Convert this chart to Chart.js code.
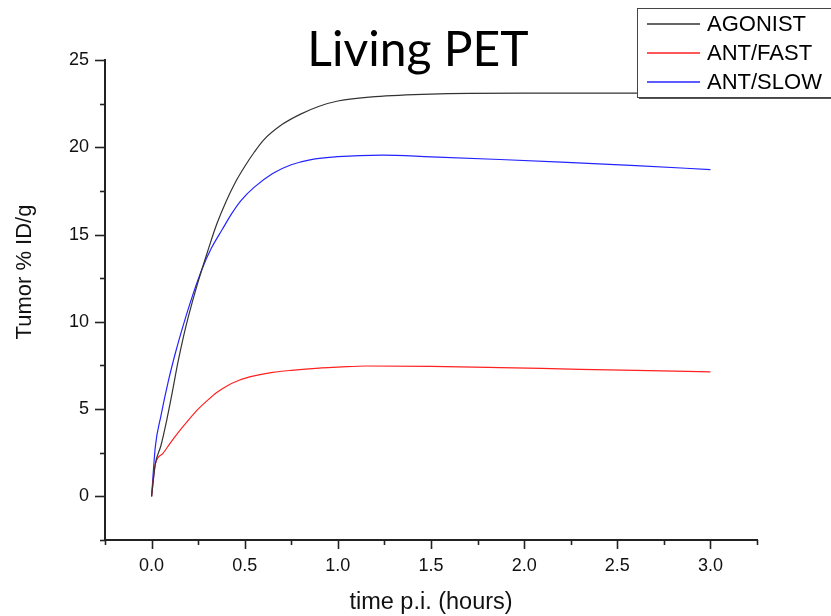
<!DOCTYPE html>
<html>
<head>
<meta charset="utf-8">
<script src="https://cdn.jsdelivr.net/npm/chart.js@4.4.1/dist/chart.umd.min.js"></script>
<style>
  html, body { margin: 0; padding: 0; background: #fff; }
  canvas { display: block; }
</style>
</head>
<body>
<canvas id="pet" width="831" height="616"></canvas>
<script>
// time after injection (hours) and tumor uptake (% ID/g)
const agonistTime = [0, 0.02, 0.05, 0.08, 0.11, 0.14, 0.17, 0.2, 0.25, 0.3, 0.35, 0.4, 0.45, 0.5, 0.55, 0.6, 0.7, 0.8, 0.9, 1.0, 1.2, 1.5, 2.0, 2.5, 3.0]
const agonistValues = [0, 1.85, 2.9, 4.3, 5.9, 7.6, 9.1, 10.4, 12.3, 14.0, 15.6, 16.9, 18.0, 18.9, 19.7, 20.4, 21.3, 21.9, 22.35, 22.65, 22.9, 23.05, 23.1, 23.1, 23.1]

const fastTime = [0, 0.02, 0.06, 0.1, 0.15, 0.2, 0.25, 0.3, 0.35, 0.4, 0.47, 0.55, 0.65, 0.75, 0.9, 1.0, 1.15, 1.5, 1.87, 2.3, 2.6, 3.0]
const fastValues = [0, 1.85, 2.45, 3.05, 3.75, 4.4, 5.0, 5.5, 5.95, 6.3, 6.65, 6.9, 7.1, 7.22, 7.35, 7.4, 7.47, 7.45, 7.38, 7.28, 7.22, 7.13]

const slowTime = [0, 0.02, 0.05, 0.09, 0.13, 0.17, 0.22, 0.27, 0.32, 0.38, 0.43, 0.48, 0.55, 0.65, 0.75, 0.85, 1.0, 1.24, 1.5, 1.87, 2.2, 2.6, 3.0]
const slowValues = [0, 2.83, 4.6, 6.6, 8.3, 9.8, 11.5, 13.0, 14.2, 15.3, 16.2, 16.95, 17.7, 18.5, 19.0, 19.28, 19.46, 19.55, 19.45, 19.3, 19.15, 18.95, 18.72]

const seriesLabels = ["AGONIST", "ANT/FAST", "ANT/SLOW"]
const seriesColors = ["#333333", "#ff2020", "#2424ff"]
const xTickStep = 0.25
const yTickStep = 2.5

const AXIS_FONT = "'Liberation Sans', Arial, sans-serif"

const toPoints = (xs, ys) => xs.map((x, i) => ({ x, y: ys[i] }))

const lineDataset = (label, data, color) => ({
  label,
  data,
  borderColor: color,
  backgroundColor: color,
  borderWidth: 1.2,
  pointRadius: 0,
  fill: false,
  cubicInterpolationMode: "monotone",
})

const isMultiple = (v, step) => Math.abs(v / step - Math.round(v / step)) < 1e-6

// axis ticks: long at labelled values, short in between
const tickMarks = {
  id: "tickMarks",
  afterDraw(chart) {
    const { ctx, scales: { x, y } } = chart
    ctx.save()
    ctx.strokeStyle = "#222"
    ctx.lineWidth = 1.6
    x.ticks.forEach((t) => {
      const px = Math.round(x.getPixelForValue(t.value)) + 0.5
      ctx.beginPath()
      ctx.moveTo(px, x.top)
      ctx.lineTo(px, x.top + (isMultiple(t.value, 0.5) ? 9 : 5))
      ctx.stroke()
    })
    y.ticks.forEach((t) => {
      const py = Math.round(y.getPixelForValue(t.value)) + 0.5
      ctx.beginPath()
      ctx.moveTo(y.right, py)
      ctx.lineTo(y.right - (isMultiple(t.value, 5) ? 10 : 5), py)
      ctx.stroke()
    })
    ctx.restore()
  },
}

// title and axis titles sit where the original figure put them
const figureText = {
  id: "figureText",
  afterDraw(chart) {
    const { ctx } = chart
    ctx.save()
    ctx.fillStyle = "#000"
    ctx.font = "48px Lato"
    ctx.textAlign = "center"
    ctx.textBaseline = "alphabetic"
    ctx.fillText("Living PET", 418, 66)

    ctx.fillStyle = "#111"
    ctx.textBaseline = "middle"
    ctx.font = `23.5px ${AXIS_FONT}`
    ctx.fillText("time p.i. (hours)", 431, 603)

    ctx.font = `22px ${AXIS_FONT}`
    ctx.translate(25, 272)
    ctx.rotate(-Math.PI / 2)
    ctx.fillText("Tumor % ID/g", 0, 0)
    ctx.restore()
  },
}

const boxLegend = {
  id: "boxLegend",
  afterDraw(chart) {
    const { ctx } = chart
    const left = 637, top = 8, w = 210, h = 89
    ctx.save()
    ctx.fillStyle = "#555"
    ctx.fillRect(left + 2, top + 2, w, h)
    ctx.fillStyle = "#fff"
    ctx.fillRect(left, top, w, h)
    ctx.strokeStyle = "#444"
    ctx.lineWidth = 1
    ctx.strokeRect(left + 0.5, top + 0.5, w, h)
    ctx.font = `22px ${AXIS_FONT}`
    ctx.textBaseline = "middle"
    ctx.textAlign = "left"
    seriesLabels.forEach((label, i) => {
      const cy = 24 + i * 29
      ctx.strokeStyle = seriesColors[i]
      ctx.lineWidth = 1.4
      ctx.beginPath()
      ctx.moveTo(647, cy)
      ctx.lineTo(700, cy)
      ctx.stroke()
      ctx.fillStyle = "#000"
      ctx.fillText(label, 707, cy + 1)
    })
    ctx.restore()
  },
}

const canvas = document.getElementById("pet")
new Chart(canvas, {
  type: "line",
  data: {
    datasets: [
      lineDataset(seriesLabels[0], toPoints(agonistTime, agonistValues), seriesColors[0]),
      lineDataset(seriesLabels[1], toPoints(fastTime, fastValues), seriesColors[1]),
      lineDataset(seriesLabels[2], toPoints(slowTime, slowValues), seriesColors[2]),
    ],
  },
  options: {
    responsive: false,
    devicePixelRatio: 1,
    animation: false,
    layout: { padding: { left: 0, top: 60, right: 74, bottom: 0 } },
    plugins: { legend: { display: false }, tooltip: { enabled: false } },
    scales: {
      x: {
        type: "linear",
        min: -0.25,
        max: 3.25,
        afterFit: (scale) => { scale.height = 76 },
        border: { display: true, color: "#222", width: 2 },
        grid: { display: true, drawOnChartArea: false, drawTicks: true, tickLength: 10, tickColor: "rgba(0,0,0,0)" },
        ticks: {
          stepSize: xTickStep,
          autoSkip: false,
          maxRotation: 0,
          padding: 5,
          color: "#111",
          font: { family: AXIS_FONT, size: 18 },
          callback: (v) => (isMultiple(v, 0.5) ? v.toFixed(1) : ""),
        },
      },
      y: {
        type: "linear",
        min: -2.5,
        max: 25,
        afterFit: (scale) => { scale.width = 105 },
        border: { display: true, color: "#222", width: 2 },
        grid: { display: true, drawOnChartArea: false, drawTicks: true, tickLength: 10, tickColor: "rgba(0,0,0,0)" },
        ticks: {
          stepSize: yTickStep,
          autoSkip: false,
          padding: 6,
          color: "#111",
          font: { family: AXIS_FONT, size: 18 },
          callback: (v) => (isMultiple(v, 5) ? String(v) : ""),
        },
      },
    },
  },
  plugins: [tickMarks, figureText, boxLegend],
})
</script>
</body>
</html>
